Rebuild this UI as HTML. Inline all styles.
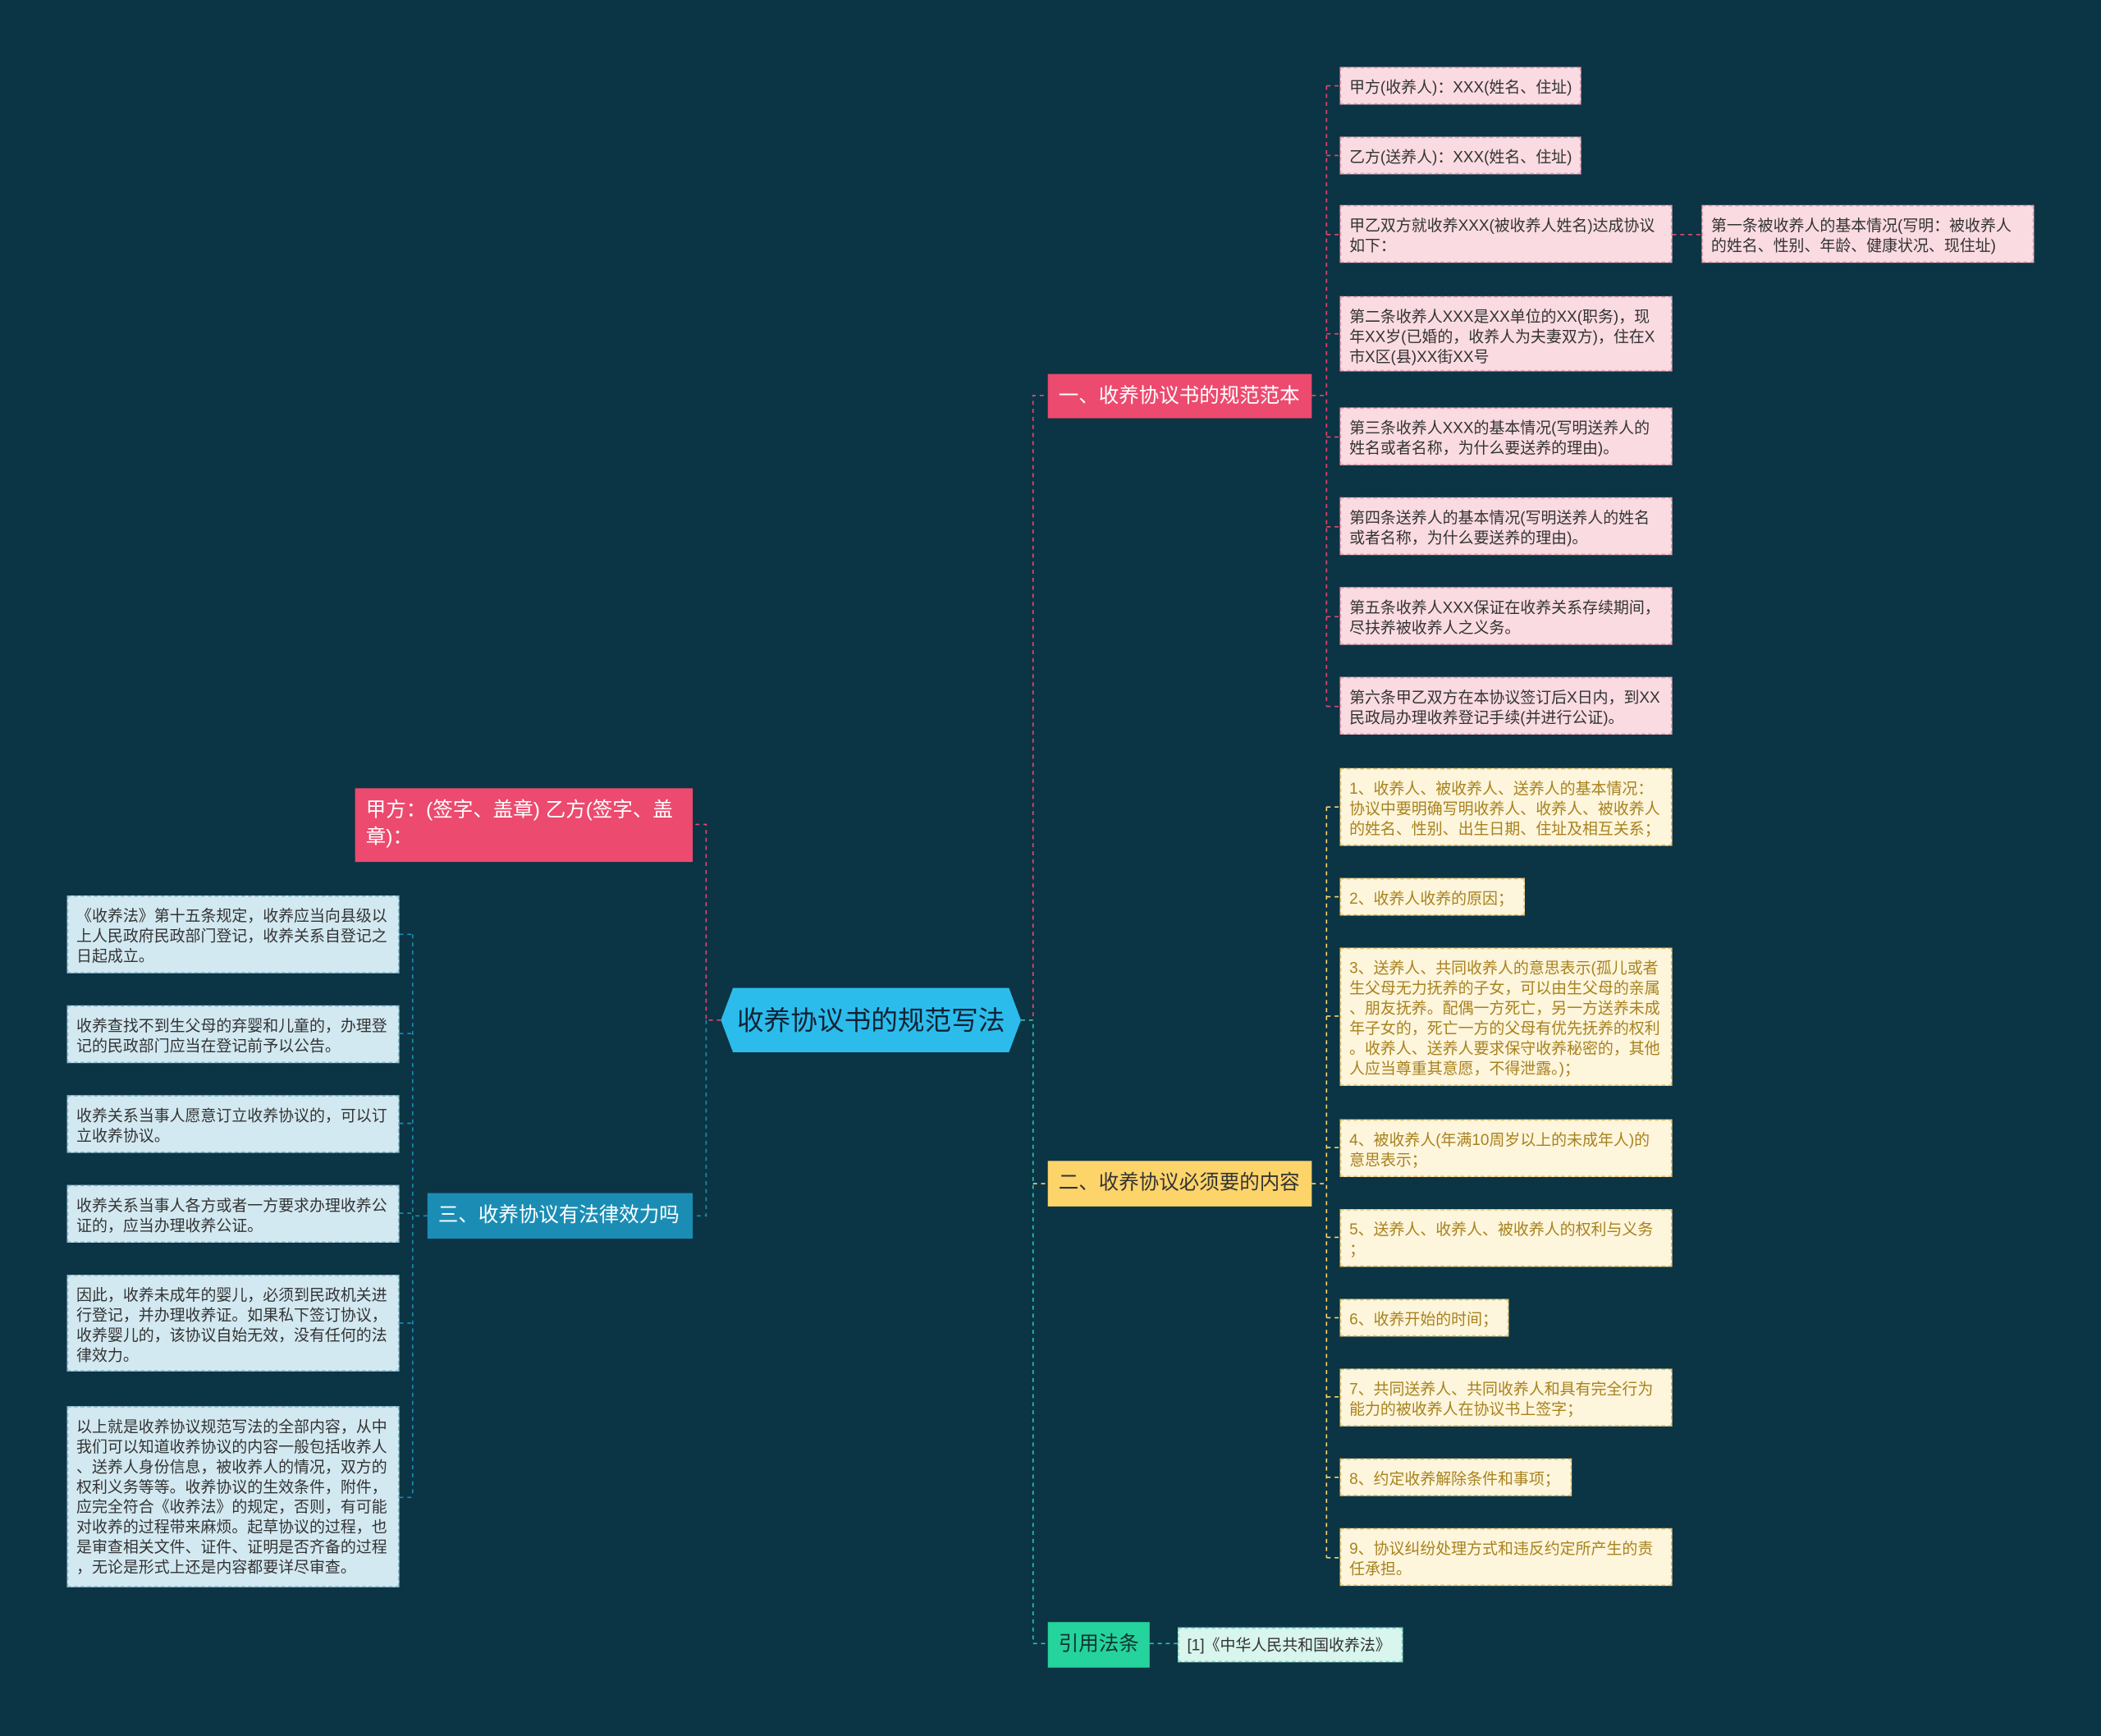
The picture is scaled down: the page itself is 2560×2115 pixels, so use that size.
<!DOCTYPE html>
<html><head><meta charset="utf-8"><style>
html,body{margin:0;padding:0;background:#0b3444;}
#w{width:1568px;height:1295px;position:relative;transform:scale(1.63265,1.6332);transform-origin:0 0;font-family:"Liberation Sans","Noto Sans CJK SC",sans-serif;}
.n{position:absolute;box-sizing:border-box;font-size:11.6px;line-height:15px;padding:7px 5px 6px 6px;line-break:anywhere;word-break:break-all;}
.p{background:#fadbe2;color:#333;border:1px dashed #e8a0b2;}
.y{background:#fdf5dc;color:#a8821e;border:1px dashed #e5c46a;}
.b{background:#d3e9f1;color:#333;border:1px dashed #8fc0d2;}
.m{position:absolute;box-sizing:border-box;font-size:15px;line-height:20px;padding:7px 8px 6px;}
</style></head><body><div id="w">
<svg width="1568" height="1295" style="position:absolute;left:0;top:0" fill="none" stroke-dasharray="3,3" stroke-width="1">
<path d="M762 761H771V295H782" stroke="#e8476a"/>
<path d="M762 761H771V1226H782" stroke="#25c99a"/>
<path d="M771 883H782" stroke="#fdd46a"/>
<path d="M538 761H527V615H517" stroke="#e8476a"/>
<path d="M527 761V907H517" stroke="#1b8db5"/>
<path d="M979 295H990M990 64V527M990 64H1000M990 116H1000M990 175H1000M990 249H1000M990 326H1000M990 393H1000M990 460H1000M990 527H1000M1248 175H1270" stroke="#e8476a"/>
<path d="M979 883H990M990 602V1162M990 602H1000M990 669H1000M990 758H1000M990 856H1000M990 923H1000M990 983H1000M990 1042H1000M990 1102H1000M990 1162H1000" stroke="#fdd46a"/>
<path d="M319 907H308M308 697V1117M298 697H308M298 771H308M298 838H308M298 905H308M298 987H308M298 1117H308" stroke="#1b8db5"/>
<path d="M858 1226H879" stroke="#25c99a"/>
</svg>
<svg width="226" height="50" style="position:absolute;left:537px;top:736px"><polygon points="10,1 216,1 225,25 216,49 10,49 1,25" fill="#2bbcec"/><text x="113" y="32" text-anchor="middle" font-size="20" fill="#123" font-family="Liberation Sans,Noto Sans CJK SC,sans-serif">收养协议书的规范写法</text></svg>
<div class="m" style="left:782px;top:279px;width:197px;height:33px;background:#ec4a6e;color:#fff">一、收养协议书的规范范本</div>
<div class="m" style="left:782px;top:866px;width:197px;height:34px;background:#fdd46a;color:#333">二、收养协议必须要的内容</div>
<div class="m" style="left:319px;top:890px;width:198px;height:34px;background:#1b8db5;color:#fff">三、收养协议有法律效力吗</div>
<div class="m" style="left:265px;top:588px;width:252px;height:55px;background:#ec4a6e;color:#fff">甲方：(签字、盖章) 乙方(签字、盖章)：</div>
<div class="m" style="left:782px;top:1210px;width:76px;height:34px;background:#25d39c;color:#133">引用法条</div>
<div class="n" style="left:879px;top:1214px;width:168px;height:26px;padding:5px 6px;background:#d8f5ee;border:1px dashed #7fd6bd;color:#333">[1]《中华人民共和国收养法》</div>

<div class="n p" style="left:1000px;top:50px;width:180px;height:28px">甲方(收养人)：XXX(姓名、住址)</div>
<div class="n p" style="left:1000px;top:102px;width:180px;height:28px">乙方(送养人)：XXX(姓名、住址)</div>
<div class="n p" style="left:1000px;top:153px;width:248px;height:43px">甲乙双方就收养XXX(被收养人姓名)达成协议如下：</div>
<div class="n p" style="left:1270px;top:153px;width:248px;height:43px">第一条被收养人的基本情况(写明：被收养人的姓名、性别、年龄、健康状况、现住址)</div>
<div class="n p" style="left:1000px;top:221px;width:248px;height:56px">第二条收养人XXX是XX单位的XX(职务)，现年XX岁(已婚的，收养人为夫妻双方)，住在X市X区(县)XX街XX号</div>
<div class="n p" style="left:1000px;top:304px;width:248px;height:43px">第三条收养人XXX的基本情况(写明送养人的姓名或者名称，为什么要送养的理由)。</div>
<div class="n p" style="left:1000px;top:371px;width:248px;height:43px">第四条送养人的基本情况(写明送养人的姓名或者名称，为什么要送养的理由)。</div>
<div class="n p" style="left:1000px;top:438px;width:248px;height:43px">第五条收养人XXX保证在收养关系存续期间，尽扶养被收养人之义务。</div>
<div class="n p" style="left:1000px;top:505px;width:248px;height:43px">第六条甲乙双方在本协议签订后X日内，到XX民政局办理收养登记手续(并进行公证)。</div>

<div class="n y" style="left:1000px;top:573px;width:248px;height:58px">1、收养人、被收养人、送养人的基本情况：协议中要明确写明收养人、收养人、被收养人的姓名、性别、出生日期、住址及相互关系；</div>
<div class="n y" style="left:1000px;top:655px;width:138px;height:28px">2、收养人收养的原因；</div>
<div class="n y" style="left:1000px;top:707px;width:248px;height:103px">3、送养人、共同收养人的意思表示(孤儿或者生父母无力抚养的子女，可以由生父母的亲属、朋友抚养。配偶一方死亡，另一方送养未成年子女的，死亡一方的父母有优先抚养的权利。收养人、送养人要求保守收养秘密的，其他人应当尊重其意愿，不得泄露。)；</div>
<div class="n y" style="left:1000px;top:835px;width:248px;height:43px">4、被收养人(年满10周岁以上的未成年人)的意思表示；</div>
<div class="n y" style="left:1000px;top:902px;width:248px;height:43px">5、送养人、收养人、被收养人的权利与义务；</div>
<div class="n y" style="left:1000px;top:969px;width:126px;height:28px">6、收养开始的时间；</div>
<div class="n y" style="left:1000px;top:1021px;width:248px;height:43px">7、共同送养人、共同收养人和具有完全行为能力的被收养人在协议书上签字；</div>
<div class="n y" style="left:1000px;top:1088px;width:173px;height:28px">8、约定收养解除条件和事项；</div>
<div class="n y" style="left:1000px;top:1140px;width:248px;height:43px">9、协议纠纷处理方式和违反约定所产生的责任承担。</div>

<div class="n b" style="left:50px;top:668px;width:248px;height:58px">《收养法》第十五条规定，收养应当向县级以上人民政府民政部门登记，收养关系自登记之日起成立。</div>
<div class="n b" style="left:50px;top:750px;width:248px;height:43px">收养查找不到生父母的弃婴和儿童的，办理登记的民政部门应当在登记前予以公告。</div>
<div class="n b" style="left:50px;top:817px;width:248px;height:43px">收养关系当事人愿意订立收养协议的，可以订立收养协议。</div>
<div class="n b" style="left:50px;top:884px;width:248px;height:43px">收养关系当事人各方或者一方要求办理收养公证的，应当办理收养公证。</div>
<div class="n b" style="left:50px;top:951px;width:248px;height:72px">因此，收养未成年的婴儿，必须到民政机关进行登记，并办理收养证。如果私下签订协议，收养婴儿的，该协议自始无效，没有任何的法律效力。</div>
<div class="n b" style="left:50px;top:1049px;width:248px;height:135px">以上就是收养协议规范写法的全部内容，从中我们可以知道收养协议的内容一般包括收养人、送养人身份信息，被收养人的情况，双方的权利义务等等。收养协议的生效条件，附件，应完全符合《收养法》的规定，否则，有可能对收养的过程带来麻烦。起草协议的过程，也是审查相关文件、证件、证明是否齐备的过程，无论是形式上还是内容都要详尽审查。</div>
</div></body></html>
